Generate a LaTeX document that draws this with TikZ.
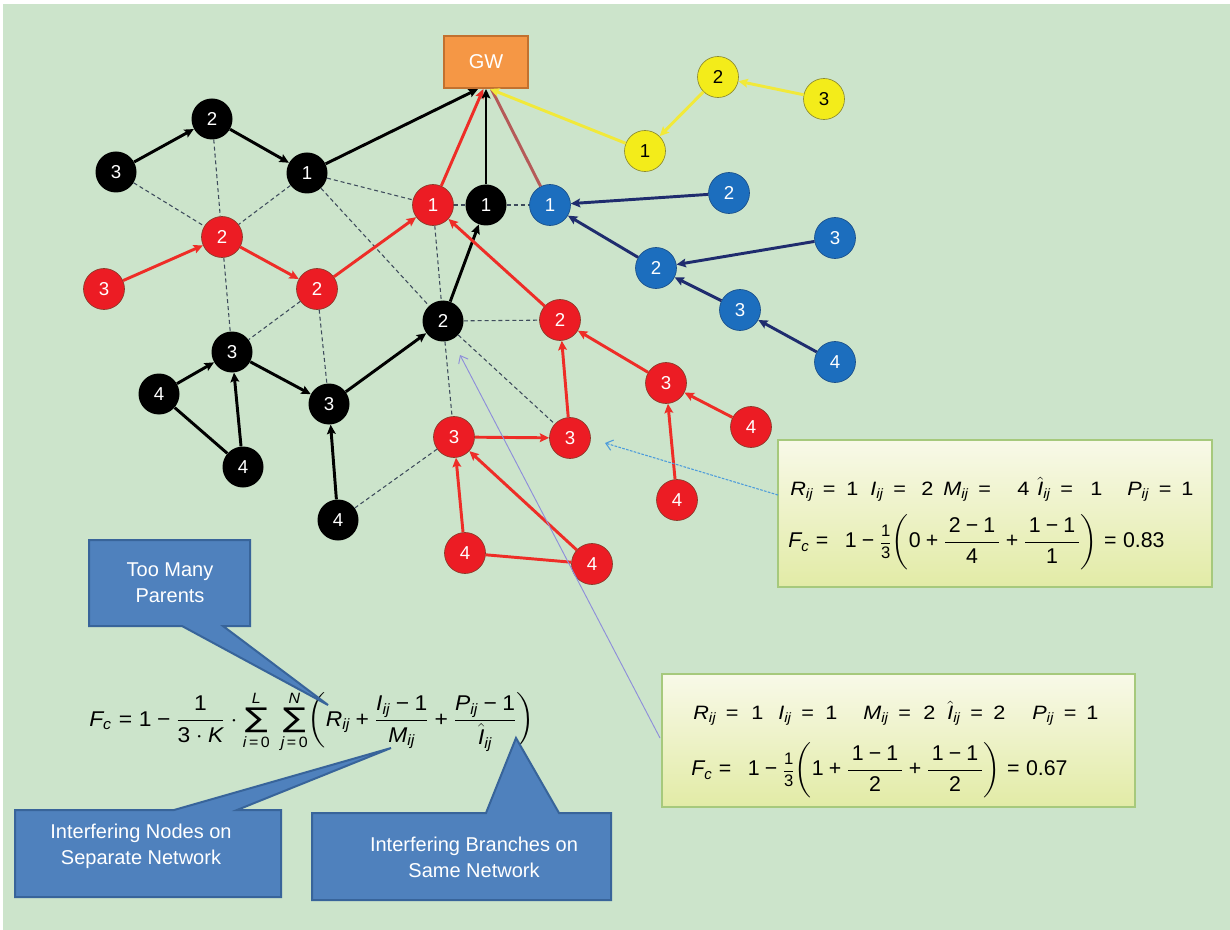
\documentclass[tikz,border=0pt]{standalone}
\usepackage{amsmath}
\usepackage{graphicx}
\usepackage{fontspec}
\setmainfont{Liberation Sans}
\newfontfamily\libsans{Liberation Sans}[NFSSFamily=libsans]
\newfontfamily\sigmafont{DejaVu Sans}
\usetikzlibrary{arrows.meta}

% sans-serif digits and operators in formulas
\DeclareSymbolFont{sfdigits}{TU}{libsans}{m}{n}
\newcommand\sfmath[3]{\Umathcode`#1=#2 \symsfdigits "#3\relax}
\AtBeginDocument{%
  \sfmath0{7}{30}\sfmath1{7}{31}\sfmath2{7}{32}\sfmath3{7}{33}\sfmath4{7}{34}%
  \sfmath5{7}{35}\sfmath6{7}{36}\sfmath7{7}{37}\sfmath8{7}{38}\sfmath9{7}{39}%
  \sfmath.{0}{2E}\sfmath+{2}{2B}\sfmath={3}{3D}\sfmath-{2}{2212}%
}
\newcommand\vv[1]{\mathit{#1}}
\newcommand\bigsum{\mathop{\vcenter{\hbox{\scalebox{1.4}[1.2]{\sigmafont\fontsize{17}{17}\selectfont ∑}}}}\limits}
\newcommand\third{\mathord{\vcenter{\hbox{\fontsize{12.5}{12.5}\selectfont$\dfrac{1}{3}$}}}}
% wide setting of formula pieces
\newcommand\wide[1]{\scalebox{1.12}[1]{#1}}
% place a piece of a formula line at a horizontal offset given in pixels
\newcommand\putat[2]{\rlap{\hspace*{#1\dimexpr0.75pt\relax}\wide{#2}}}

\definecolor{bg}{HTML}{CCE4CB}
\definecolor{nodered}{HTML}{EC1C24}
\definecolor{redrim}{HTML}{8A3A2A}
\definecolor{edgered}{HTML}{EE2D27}
\definecolor{nodeblue}{HTML}{1C6EBE}
\definecolor{bluerim}{HTML}{1A4F8A}
\definecolor{edgeblue}{HTML}{1F2C6E}
\definecolor{nodeyellow}{HTML}{F3EC1A}
\definecolor{yellowrim}{HTML}{8C8A30}
\definecolor{edgeyellow}{HTML}{F1E93A}
\definecolor{gwfill}{HTML}{F59745}
\definecolor{gwrim}{HTML}{C2712F}
\definecolor{uplink}{HTML}{B55A58}
\definecolor{meshline}{HTML}{3E4B5C}
\definecolor{calfill}{HTML}{4F81BD}
\definecolor{calrim}{HTML}{38649A}
\definecolor{boxtop}{HTML}{F8F9E8}
\definecolor{boxbot}{HTML}{E2EBA6}
\definecolor{boxrim}{HTML}{A6C97C}
\definecolor{pointA}{HTML}{4C9BDB}
\definecolor{pointB}{HTML}{8E8EDA}

\tikzset{
  vtx/.style={circle, minimum size=30.75pt, inner sep=0pt, font=\fontsize{14}{14}\selectfont},
  bk/.style={vtx, fill=black, text=white},
  rd/.style={vtx, fill=nodered, draw=redrim, line width=0.5pt, text=white},
  bu/.style={vtx, fill=nodeblue, draw=bluerim, line width=0.5pt, text=white},
  yw/.style={vtx, fill=nodeyellow, draw=yellowrim, line width=0.5pt, text=black},
  gwbox/.style={rectangle, fill=gwfill, draw=gwrim, line width=1.5pt, minimum width=63pt, minimum height=39pt, text=white, font=\fontsize{15}{15}\selectfont},
  head/.style={-{Stealth[length=7pt,width=6.5pt,inset=1.2pt]}},
  blackedge/.style={draw=black, line width=2.2pt},
  rededge/.style={draw=edgered, line width=2.2pt},
  blueedge/.style={draw=edgeblue, line width=2.2pt},
  yellowedge/.style={draw=edgeyellow, line width=2.2pt},
  mesh/.style={draw=meshline, line width=0.8pt, dash pattern=on 3pt off 2.2pt},
  fbox/.style={rectangle, top color=boxtop, bottom color=boxbot, draw=boxrim, line width=1.5pt},
  vline/.style={anchor=west, inner sep=0pt, font=\fontsize{14.5}{17}\selectfont},
  fline/.style={anchor=west, inner sep=0pt, font=\fontsize{16}{19}\selectfont},
  callout/.style={fill=calfill, draw=calrim, line width=1.5pt, line join=miter},
  caltext/.style={text=white, align=center, inner sep=0pt, font=\fontsize{15}{19.5}\selectfont},
  barb/.style={-{Straight Barb[length=5pt,width=8pt]}}
}

\begin{document}
\begin{tikzpicture}[x=0.75pt, y=-0.75pt]
  % canvas
  \fill[white] (0,0) rectangle (1230,930);
  \fill[bg] (3,4) rectangle (1230,930);
  \useasboundingbox (0,0) rectangle (1230,930);

  % gateway
  \node[gwbox] (gw) at (486,62) {GW};

  % black network
  \node[bk] (b3a) at (116,172) {3};
  \node[bk] (b2a) at (212,119) {2};
  \node[bk] (b1a) at (307,173) {1};
  \node[bk] (b1b) at (486,205) {1};
  \node[bk] (b2b) at (443,321) {2};
  \node[bk] (b3b) at (232,352) {3};
  \node[bk] (b4a) at (159,394) {4};
  \node[bk] (b4b) at (243,467) {4};
  \node[bk] (b3c) at (329,404) {3};
  \node[bk] (b4c) at (338,520) {4};

  % red network
  \node[rd] (r1)  at (433,205) {1};
  \node[rd] (r2a) at (222,237) {2};
  \node[rd] (r3a) at (104,289) {3};
  \node[rd] (r2b) at (317,289) {2};
  \node[rd] (r2c) at (560,320) {2};
  \node[rd] (r3b) at (666,383) {3};
  \node[rd] (r4a) at (751,427) {4};
  \node[rd] (r3c) at (454,437) {3};
  \node[rd] (r3d) at (570,438) {3};
  \node[rd] (r4b) at (677,500) {4};
  \node[rd] (r4c) at (465,553) {4};
  \node[rd] (r4d) at (592,564) {4};

  % blue network
  \node[bu] (u1)  at (550,205) {1};
  \node[bu] (u2a) at (729,193) {2};
  \node[bu] (u3a) at (835,238) {3};
  \node[bu] (u2b) at (656,268) {2};
  \node[bu] (u3b) at (740,310) {3};
  \node[bu] (u4)  at (835,362) {4};

  % yellow network
  \node[yw] (y2) at (718,77) {2};
  \node[yw] (y3) at (824,99) {3};
  \node[yw] (y1) at (645,151) {1};

  % interference links
  \foreach \a/\b in {b3a/r2a, b2a/r2a, b1a/r2a, b1a/r1, b1a/b2b, r1/b1b, b1b/u1,
                     r1/b2b, r2a/b3b, r2b/b3b, r2b/b3c, b2b/r2c, b2b/r3c, b2b/r3d, r3c/b4c}
    \draw[mesh] (\a) -- (\b);

  % black tree
  \foreach \a/\b in {b3a/b2a, b2a/b1a, b2b/b1b, b3c/b2b, b3b/b3c, b4a/b3b, b4b/b3b, b4c/b3c}
    \draw[blackedge, head] (\a) -- (\b);
  \draw[blackedge] (b4a) -- (b4b);
  \draw[blackedge, head] (b1a) -- ([xshift=-6pt]gw.south);

  % red tree
  \foreach \a/\b in {r3a/r2a, r2a/r2b, r2b/r1, r2c/r1, r3d/r2c, r3b/r2c, r4a/r3b, r4b/r3b,
                     r3c/r3d, r4c/r3c, r4d/r3c}
    \draw[rededge, head] (\a) -- (\b);
  \draw[rededge] (r4c) -- (r4d);
  \draw[rededge, head] (r1) -- ([xshift=-2pt]gw.south);

  % blue tree
  \foreach \a/\b in {u2a/u1, u2b/u1, u3a/u2b, u3b/u2b, u4/u3b}
    \draw[blueedge, head] (\a) -- (\b);
  \draw[draw=uplink, line width=2.2pt] (u1) -- ([xshift=4pt]gw.south);

  % yellow tree
  \draw[yellowedge, head] (y3) -- (y2);
  \draw[yellowedge, head] (y2) -- (y1);
  \draw[yellowedge, head] (y1) -- ([xshift=3pt]gw.south);

  \draw[blackedge, head] (b1b) -- (gw.south);

  % worked examples
  \node[fbox, minimum width=325.5pt, minimum height=110.25pt] (boxA) at (995,513.5) {};
  \node[vline] (exA1) at (790,489)
    {\hbox to 305pt{\putat{0}{$\vv{R}_{\vv{ij}}\,=$}\putat{56}{$1$}\putat{80}{$\vv{I}_{\vv{ij}}\,=$}\putat{131}{$2$}%
     \putat{153}{$\vv{M}_{\vv{ij}}\,=$}\putat{227}{$4$}\putat{247}{$\hat{\vv{I}}_{\vv{ij}}\,=$}\putat{300}{$1$}%
     \putat{337}{$\vv{P}_{\vv{ij}}\,=$}\putat{391}{$1$}\hfil}};
  \node[fline] (exA2) at (788,542)
    {$\vv{F}_{\vv{c}} =\;\, 1 - \third\!\left(0 + \dfrac{\,2-1\,}{4} + \dfrac{\,1-1\,}{1}\right) = 0.83$};

  \node[fbox, minimum width=354.75pt, minimum height=99.75pt] (boxB) at (898.5,740.5) {};
  \node[vline] (exB1) at (693,713)
    {\hbox to 305pt{\putat{0}{$\vv{R}_{\vv{ij}}\,=$}\putat{58}{$1$}\putat{85}{$\vv{I}_{\vv{ij}}\,=$}\putat{132}{$1$}%
     \putat{170}{$\vv{M}_{\vv{ij}}\,=$}\putat{230}{$2$}\putat{254}{$\hat{\vv{I}}_{\vv{ij}}\,=$}\putat{300}{$2$}%
     \putat{339}{$\vv{P}_{\vv{ij}}\,=$}\putat{393}{$1$}\hfil}};
  \node[fline] (exB2) at (691,770)
    {$\vv{F}_{\vv{c}} =\;\, 1 - \third\!\left(1 + \dfrac{\,1-1\,}{2} + \dfrac{\,1-1\,}{2}\right) = 0.67$};

  % pointers from the examples
  \coordinate (pA) at (778,495);
  \coordinate (tA) at (605,443);
  \draw[pointA, line width=0.8pt, dash pattern=on 2pt off 1pt, barb] (pA) -- (tA);
  \coordinate (pB) at (660,738);
  \coordinate (tB) at (460,355);
  \draw[pointB, line width=0.7pt, barb] (pB) -- (tB);

  % general formula
  \node[anchor=west, inner sep=0pt, font=\fontsize{16}{19}\selectfont] (fc) at (89,722)
    {\scalebox{1.07}[1]{$\vv{F}_{\vv{c}} = 1 - \dfrac{1}{3\cdot \vv{K}}\cdot\bigsum_{\vv{i}\,=\,0}^{\vv{L}}\;\bigsum_{\vv{j}\,=\,0}^{\vv{N}}\!\left(\vv{R}_{\vv{ij}} + \dfrac{\vv{I}_{\vv{ij}}-1}{\vv{M}_{\vv{ij}}} + \dfrac{\vv{P}_{\vv{ij}}-1}{\hat{\vv{I}}_{\vv{ij}}}\right)$}};

  % callouts
  \draw[callout] (89,540) -- (250,540) -- (250,626) -- (223,626) -- (328,705) -- (182,626) -- (89,626) -- cycle;
  \node[caltext] (c1) at (170,583) {Too Many\\Parents};

  \draw[callout] (15,810) -- (174,810) -- (391,748) -- (237,810) -- (281,810) -- (281,897) -- (15,897) -- cycle;
  \node[caltext] (c2) at (141,846) {Interfering Nodes on\\Separate Network};

  \draw[callout] (312,813) -- (486,813) -- (516,738) -- (559,813) -- (611,813) -- (611,900) -- (312,900) -- cycle;
  \node[caltext] (c3) at (474,857) {Interfering Branches on\\Same Network};
\end{tikzpicture}
\end{document}
